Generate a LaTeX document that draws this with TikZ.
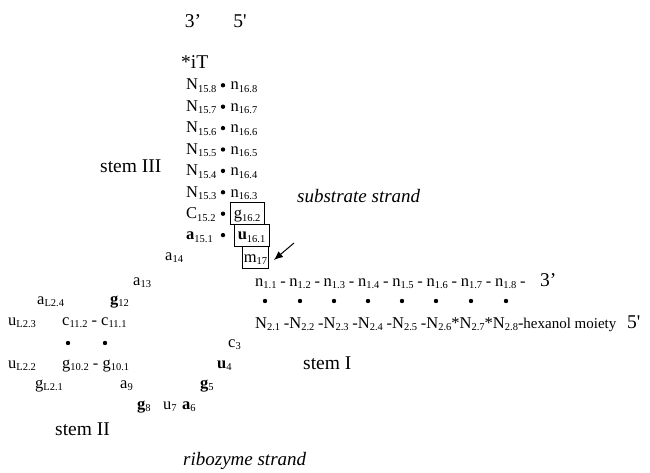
\documentclass[tikz,border=0pt]{standalone}
\usepackage{fontspec}
\setmainfont{Liberation Serif}
\usetikzlibrary{arrows.meta}
\newcommand{\subs}[1]{\raisebox{-2.6pt}{\fontsize{10.5}{10.5}\selectfont #1}}
\newcommand{\hy}{\kern3.7pt-\kern3.7pt}
\newcommand{\Hy}{\kern3.7pt-}
\begin{document}
\begin{tikzpicture}[x=1pt,y=-1pt,
  lbl/.style={anchor=base west,inner sep=0pt,font=\fontsize{16.5}{20}\selectfont},
  big/.style={anchor=base west,inner sep=0pt,font=\fontsize{19.5}{22}\selectfont},
  ctr/.style={anchor=base,inner sep=0pt,font=\fontsize{19.5}{22}\selectfont},
  ital/.style={big,font=\fontsize{19}{22}\selectfont\itshape},
  bp/.style={circle,fill=black,inner sep=0pt,minimum size=4.4pt},
  boxed/.style={draw,line width=0.6pt,anchor=base west,inner xsep=3.5pt,inner ysep=1pt,
    text height=15pt,text depth=5pt,font=\fontsize{16.5}{20}\selectfont},
  arr/.style={-{Latex[length=9pt,width=7.5pt]},line width=1pt}]
\useasboundingbox (0,0) rectangle (650,473);
% ends of the stem III strands
\node[ctr] (e3top) at (193,28) {3’};
\node[ctr] (e5top) at (240,28) {5\textquotesingle};
\node[big] (iT) at (181,69) {*iT};
% stem III
\node[lbl] (r0l) at (186,90) {N\subs{15.8}};
\node[bp] (r0b) at (223,85.3) {};
\node[lbl] (r0r) at (230.5,90) {n\subs{16.8}};
\node[lbl] (r1l) at (186,111.4) {N\subs{15.7}};
\node[bp] (r1b) at (223,106.7) {};
\node[lbl] (r1r) at (230.5,111.4) {n\subs{16.7}};
\node[lbl] (r2l) at (186,132.8) {N\subs{15.6}};
\node[bp] (r2b) at (223,128.1) {};
\node[lbl] (r2r) at (230.5,132.8) {n\subs{16.6}};
\node[lbl] (r3l) at (186,154.2) {N\subs{15.5}};
\node[bp] (r3b) at (223,149.5) {};
\node[lbl] (r3r) at (230.5,154.2) {n\subs{16.5}};
\node[lbl] (r4l) at (186,175.6) {N\subs{15.4}};
\node[bp] (r4b) at (223,170.9) {};
\node[lbl] (r4r) at (230.5,175.6) {n\subs{16.4}};
\node[lbl] (r5l) at (186,197) {N\subs{15.3}};
\node[bp] (r5b) at (223,192.3) {};
\node[lbl] (r5r) at (230.5,197) {n\subs{16.3}};
\node[lbl] (r6l) at (186,218.4) {C\subs{15.2}};
\node[bp] (r6b) at (223,213.7) {};
\node[boxed] (r6r) at (230,218.4) {g\subs{16.2}};
\node[lbl] (r7l) at (186,239.8) {\textbf{a}\subs{15.1}};
\node[bp] (r7b) at (223,235.1) {};
\node[boxed] (r7r) at (234,239.8) {\textbf{u}\subs{16.1}};
\node[boxed,inner xsep=1.5pt] (m17) at (242,262) {m\subs{17}};
\coordinate (arrS) at (294,243);
\draw[arr] (arrS) -- ([shift={(5,3)}]m17.east);
\node[big] (stemIII) at (100,172) {stem III};
\node[ital] (substr) at (297,203) {substrate strand};
% core
\node[lbl] (a14) at (165,260) {a\subs{14}};
\node[lbl] (a13) at (133,285) {a\subs{13}};
\node[lbl] (g12) at (110,304) {\textbf{g}\subs{12}};
% stem I
\node[lbl] (nrow) at (255,286) {n\subs{1.1}\hy n\subs{1.2}\hy n\subs{1.3}\hy n\subs{1.4}\hy n\subs{1.5}\hy n\subs{1.6}\hy n\subs{1.7}\hy n\subs{1.8}\hy};
\node[big] (e3r) at (540,286) {3’};
\foreach \i/\x in {1/265,2/300,3/334,4/368,5/402,6/436,7/471,8/506}
  \node[bp] (d\i) at (\x,301) {};
\node[lbl] (Nrow) at (255,328) {N\subs{2.1}\Hy N\subs{2.2}\Hy N\subs{2.3}\Hy N\subs{2.4}\Hy N\subs{2.5}\Hy N\subs{2.6}*N\subs{2.7}*N\subs{2.8}-{\fontsize{15}{18}\selectfont hexanol moiety}};
\node[big] (e5r) at (627,328) {5\textquotesingle};
\node[big] (stemI) at (303,369) {stem I};
% stem II
\node[lbl] (aL24) at (37,304) {a\subs{L2.4}};
\node[lbl] (uL23) at (8,325) {u\subs{L2.3}};
\node[lbl] (c11) at (62,325) {c\subs{11.2} - c\subs{11.1}};
\node[bp] (dl1) at (68,343) {};
\node[bp] (dl2) at (105,343) {};
\node[lbl] (uL22) at (8,368) {u\subs{L2.2}};
\node[lbl] (g10) at (62,368) {g\subs{10.2} - g\subs{10.1}};
\node[lbl] (gL21) at (35,388) {g\subs{L2.1}};
\node[big] (stemII) at (55,435) {stem II};
% lower core
\node[lbl] (c3) at (228,347) {c\subs{3}};
\node[lbl] (u4) at (217,368) {\textbf{u}\subs{4}};
\node[lbl] (a9) at (120,388) {a\subs{9}};
\node[lbl] (g5) at (200,388) {\textbf{g}\subs{5}};
\node[lbl] (g8) at (137,409) {\textbf{g}\subs{8}};
\node[lbl] (u7) at (163,409) {u\subs{7}};
\node[lbl] (a6) at (182,409) {\textbf{a}\subs{6}};
\node[ital] (ribo) at (183,465) {ribozyme strand};
\end{tikzpicture}
\end{document}
